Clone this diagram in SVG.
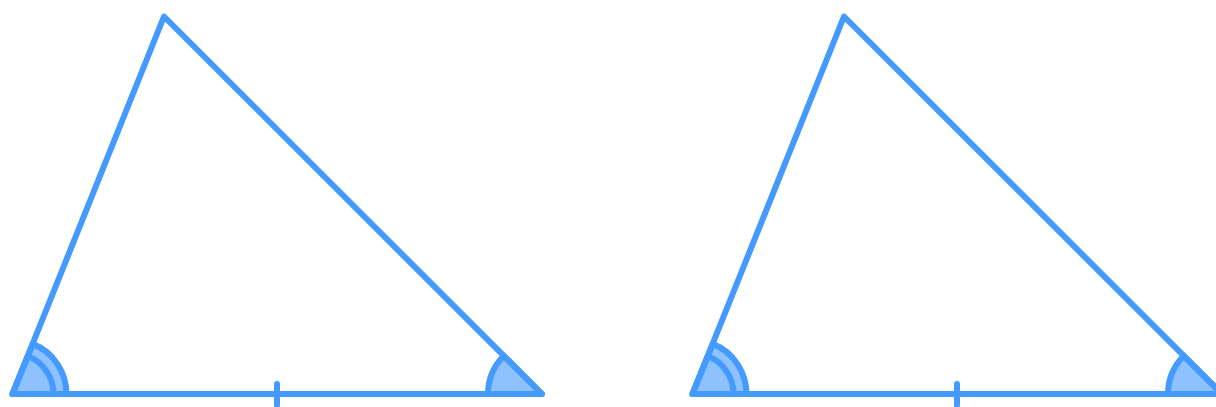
<svg xmlns="http://www.w3.org/2000/svg" width="1216" height="407" viewBox="0 0 1216 407">
<style>
.ln{fill:none;stroke:#449AFF;stroke-width:6;stroke-linejoin:round;stroke-linecap:round}
.wd{fill:#8EC2FF;stroke:#449AFF;stroke-width:6;stroke-linejoin:round}
</style>
<rect width="1216" height="407" fill="#fff"/>
<g id="triangle-left">
<path class="wd" d="M12.5,394 L32.8,343.9 A54,54 0 0 1 66.5,394 Z"/>
<path class="wd" d="M12.5,394 L27.9,356 A41,41 0 0 1 53.5,394 Z"/>
<path class="wd" d="M542,394 L488,394 A54,54 0 0 1 503.8,355.8 Z"/>
<path class="ln" d="M12.5,394 L164,16.5 L542,394 Z"/>
<line class="ln" x1="277" y1="384" x2="277" y2="405"/>
</g>
<g id="triangle-right">
<path class="wd" d="M692.5,394 L712.8,343.9 A54,54 0 0 1 746.5,394 Z"/>
<path class="wd" d="M692.5,394 L707.9,356 A41,41 0 0 1 733.5,394 Z"/>
<path class="wd" d="M1222,394 L1168,394 A54,54 0 0 1 1183.8,355.8 Z"/>
<path class="ln" d="M692.5,394 L844,16.5 L1222,394 Z"/>
<line class="ln" x1="957" y1="384" x2="957" y2="405"/>
</g>
<g id="connectors"></g>
</svg>
